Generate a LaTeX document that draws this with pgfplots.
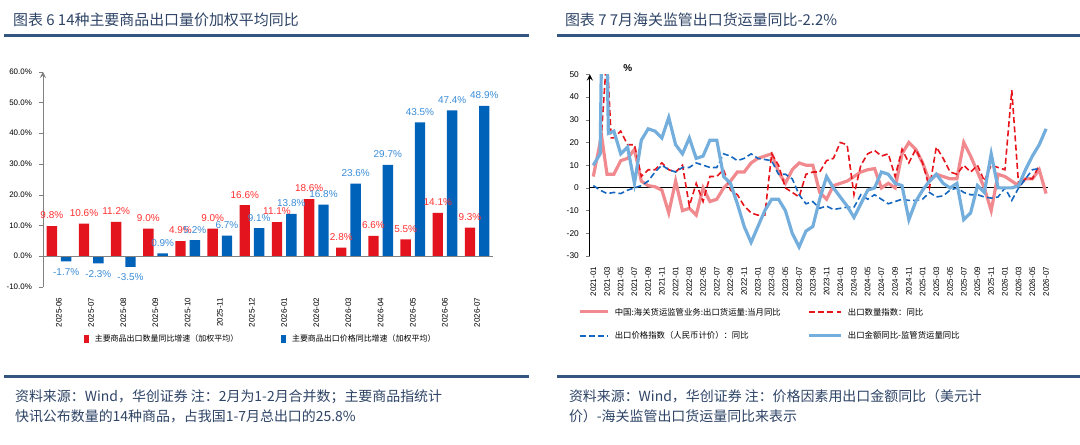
\documentclass[border=0pt]{standalone}
\usepackage{pgfplots}
\pgfplotsset{compat=1.18}
\usepackage{fontspec}
\setmainfont{Liberation Sans}
\newfontfamily\cjk{Noto Sans CJK SC}
\definecolor{navy}{HTML}{34557F}
\definecolor{tnavy}{HTML}{2E4466}
\definecolor{bred}{HTML}{E3141E}
\definecolor{bblue}{HTML}{0062B8}
\definecolor{lred}{HTML}{FF3030}
\definecolor{lblue}{HTML}{3A8DD8}
\definecolor{pink}{HTML}{F08A8E}
\definecolor{sky}{HTML}{74AEDD}
\definecolor{dred}{HTML}{E8141C}
\definecolor{dblue}{HTML}{1467C0}
\tikzset{dsh/.style={dash pattern=on 3pt off 1.6pt}}
\begin{document}
\begin{tikzpicture}[x=1pt,y=1pt]
\fill[white] (0,0) rectangle (540,223);
% titles
\node[anchor=west,text=tnavy,font=\cjk\fontsize{7.5}{8}\selectfont] at (1,213) {图表\ 6\ 14种主要商品出口量价加权平均同比};
\node[anchor=west,text=tnavy,font=\cjk\fontsize{7.5}{8}\selectfont] at (278,213) {图表\ 7\ 7月海关监管出口货运量同比-2.2\%};
\fill[navy] (0,204.5) rectangle (263.5,206);
\fill[navy] (277.5,204.5) rectangle (540,206);
\fill[navy] (0,33.5) rectangle (263.5,35);
\fill[navy] (277.5,33.5) rectangle (540,35);
\node[anchor=north west,text=tnavy,align=left,font=\cjk\fontsize{7}{10}\selectfont\itshape] at (2,31) {资料来源：Wind，华创证券\ 注：2月为1-2月合并数；主要商品指统计\\快讯公布数量的14种商品，占我国1-7月总出口的25.8\%};
\node[anchor=north west,text=tnavy,align=left,font=\cjk\fontsize{7}{10}\selectfont\itshape] at (280,31) {资料来源：Wind，华创证券\ 注：价格因素用出口金额同比（美元计\\价）-海关监管出口货运量同比来表示};
% left chart
\begin{axis}[at={(19.5pt,79pt)},anchor=south west,scale only axis,width=226pt,height=108pt,
 ybar,bar width=5.2pt,ymin=-10,ymax=60,xmin=-0.5,xmax=13.5,
 axis y line=left,axis x line*=none,x axis line style={draw=none},
 ytick={-10,0,...,60},yticklabel={\pgfmathprintnumber[fixed,fixed zerofill,precision=1]{\tick}\%},
 yticklabel style={font=\fontsize{4}{4}\selectfont,/pgf/number format/assume math mode=true},
 y axis line style={gray},ytick style={gray},tick align=outside,major tick length=2pt,
 xtick=data,xticklabels={2025-06,2025-07,2025-08,2025-09,2025-10,2025-11,2025-12,2026-01,2026-02,2026-03,2026-04,2026-05,2026-06,2026-07},
 xticklabel style={rotate=90,anchor=east,font=\fontsize{4}{4}\selectfont},xtick style={draw=none},
 nodes near coords={\pgfmathprintnumber[fixed,fixed zerofill,precision=1]{\pgfplotspointmeta}\%},
 nodes near coords style={font=\fontsize{5}{5}\selectfont,/pgf/number format/assume math mode=true},
 clip=false]
\addplot[fill=bred,draw=none,nodes near coords style={text=lred}] coordinates {(0,9.8)(1,10.6)(2,11.2)(3,9.0)(4,4.9)(5,9.0)(6,16.6)(7,11.1)(8,18.6)(9,2.8)(10,6.6)(11,5.5)(12,14.1)(13,9.3)};
\addplot[fill=bblue,draw=none,nodes near coords style={text=lblue}] coordinates {(0,-1.7)(1,-2.3)(2,-3.5)(3,0.9)(4,5.2)(5,6.7)(6,9.1)(7,13.8)(8,16.8)(9,23.6)(10,29.7)(11,43.5)(12,47.4)(13,48.9)};
\draw[gray] (axis cs:-0.5,0) -- (axis cs:13.5,0);
\end{axis}
\fill[bred] (40,51) rectangle (42.5,55);
\node[anchor=west,font=\cjk\fontsize{4}{4}\selectfont] at (42,53) {主要商品出口数量同比增速（加权平均）};
\fill[bblue] (139,51) rectangle (141.5,55);
\node[anchor=west,font=\cjk\fontsize{4}{4}\selectfont] at (141,53) {主要商品出口价格同比增速（加权平均）};
% right chart
\begin{axis}[at={(294pt,94.5pt)},anchor=south west,scale only axis,width=230pt,height=91.2pt,
 ymin=-30,ymax=50,xmin=-0.5,xmax=66.3,
 axis y line=left,x axis line style={draw=none},axis x line=bottom,
 ytick={-30,-20,...,50},
 yticklabel style={font=\fontsize{4.2}{4}\selectfont,/pgf/number format/assume math mode=true},
 tick align=outside,major tick length=2pt,
 xtick={0,2,...,66},xticklabels={2021-01,2021-03,2021-05,2021-07,2021-09,2021-11,2022-01,2022-03,2022-05,2022-07,2022-09,2022-11,2023-01,2023-03,2023-05,2023-07,2023-09,2023-11,2024-01,2024-03,2024-05,2024-07,2024-09,2024-11,2025-01,2025-03,2025-05,2025-07,2025-09,2025-11,2026-01,2026-03,2026-05,2026-07},
 xticklabel style={rotate=90,anchor=east,font=\fontsize{4}{4}\selectfont},xtick style={draw=none},
 clip=true]
\draw[black] (axis cs:-0.5,0) -- (axis cs:66.3,0);
\addplot[pink,line width=1.6pt] coordinates {(0,5)(1,20)(1.2,23)(2,6)(3,6)(4,12)(5,13)(6,17)(7,3)(8,1)(9,0.5)(10,-1)(11,-11)(12,3)(13,-10)(14,-9)(15,-12)(16,0)(17,-6)(18,-5)(19,0)(20,3)(21,7)(22,7)(23,11)(24,13)(25,14)(26,15)(27,7)(28,2)(29,8)(30,11)(31,10)(32,10)(33,-2)(34,-5)(35,1)(36,2)(37,3)(38,5)(39,7)(40,8)(41,8.5)(42,0)(43,2)(44,0)(45,15)(46,20)(47,17)(48,11)(49,3)(50,6)(51,5)(52,4)(53,4)(54,20)(55,14)(56,7)(57,0)(58,-10)(59,6)(60,5)(61,3)(62,1)(63,4)(64,4)(65,8)(66,-2.5)};
\addplot[dred,dsh,line width=0.8pt] coordinates {(0,10)(1,15)(2,60)(2.6,22)(3,22)(4,25)(5,19)(6,19)(7,5)(8,8)(9,8)(10,11)(11,8)(12,7)(13,10)(14,-8)(15,2)(16,-6)(17,5)(18,5)(19,8)(20,-1)(21,-3)(22,-8)(23,-11)(24,-12)(25,-12)(26,15)(27,10)(28,0)(29,-2)(30,-4)(31,6)(32,7)(33,7)(34,12)(35,13)(36,20)(37,19)(38,-3)(39,10)(40,15)(41,16.5)(42,14)(43,15)(44,5)(45,17)(46,11)(47,17)(48,11)(49,0)(50,18)(51,13)(52,7)(53,6)(54,10)(55,7)(56,10)(57,3)(58,10)(59,9)(60,8)(61,43)(62,1)(63,4)(64,4)(65,10)};
\addplot[dblue,dsh,line width=0.8pt] coordinates {(0,1)(1,-1)(2,-2.5)(3,-2)(4,-2.5)(5,-1)(6,0)(7,1)(8,3)(9,7)(10,10)(11,8)(12,7)(13,9)(14,9)(15,11)(16,10)(17,9)(18,9)(19,15)(20,14)(21,12)(22,13)(23,15)(24,13)(25,12.5)(26,12)(27,6)(28,6)(29,4)(30,-3)(31,-7)(32,-6)(33,-9)(34,-8)(35,-9.5)(36,-9)(37,-8.5)(38,-8.5)(39,-3)(40,-5)(41,-3)(42,-5)(43,-7)(44,-6)(45,-5)(46,-5.5)(47,-5.5)(48,-5)(49,-2)(50,-4)(51,-3.5)(52,-1)(53,0)(54,-2)(55,-3)(56,-3)(57,-4)(58,-4.5)(59,-4)(60,0)(61,-5.5)(62,0)(63,4)(64,8)(65,8.5)};
\addplot[sky,line width=1.6pt] coordinates {(0,10)(1,15)(1.2,60)(2,60)(2.2,24)(3,25)(4,15)(5,18)(6,2)(7,21)(8,26)(9,25)(10,22)(11,31)(12,19)(13,15)(14,22)(15,13)(16,14)(17,21)(18,21)(19,5)(20,2)(21,-7)(22,-17)(23,-24)(24,-17)(25,-10)(26,-5)(27,-5)(28,-10)(29,-20)(30,-26)(31,-19)(32,-17)(33,-5)(34,5)(35,0)(36,-4)(37,-8)(38,-13)(39,-7)(40,-1)(41,0)(42,7)(43,6)(44,2)(45,1)(46,-14)(47,-6)(48,-1)(49,3)(50,6)(51,2)(52,0)(53,2)(54,-14)(55,-11)(56,1)(57,-2)(58,15)(59,0)(60,0)(61,0)(62,1)(63,8)(64,14)(65,19)(66,26)};
\end{axis}
\node[font=\fontsize{5}{5}\selectfont\bfseries] at (313,189) {\%};
% right legend
\draw[pink,line width=1.6pt] (289,66.5) -- (303,66.5);
\node[anchor=west,font=\cjk\fontsize{4.2}{4}\selectfont] at (303,66.5) {中国:海关货运监管业务:出口货运量:当月同比};
\draw[dred,dsh,line width=0.8pt] (404,66.5) -- (420,66.5);
\node[anchor=west,font=\cjk\fontsize{4.2}{4}\selectfont] at (420,66.5) {出口数量指数：同比};
\draw[dblue,dsh,line width=0.8pt] (289,54.5) -- (303,54.5);
\node[anchor=west,font=\cjk\fontsize{4.2}{4}\selectfont] at (303,54.5) {出口价格指数（人民币计价）：同比};
\draw[sky,line width=1.6pt] (404,54.5) -- (420,54.5);
\node[anchor=west,font=\cjk\fontsize{4.2}{4}\selectfont] at (420,54.5) {出口金额同比-监管货运量同比};
\end{tikzpicture}
\end{document}
